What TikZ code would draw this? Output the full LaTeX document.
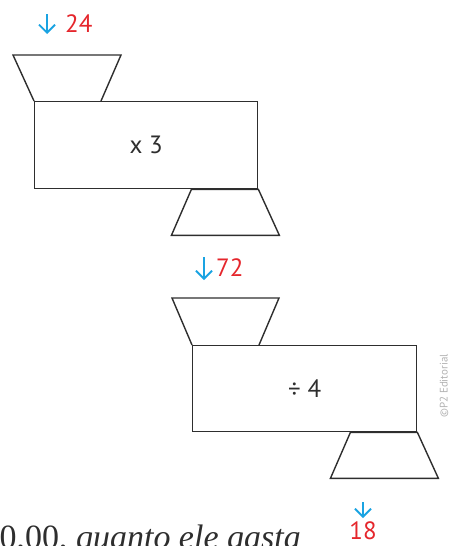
\documentclass[tikz,border=0pt]{standalone}
\usepackage{fontspec}
\setmainfont{PT Sans}
\newfontfamily\serifbody{Liberation Serif}
\usetikzlibrary{arrows.meta}
\definecolor{inkgray}{HTML}{2E2E2E}
\definecolor{arrowblue}{HTML}{1AA3E2}
\definecolor{numred}{HTML}{E5262C}
\tikzset{
  machine/.style={draw=inkgray, line width=1.4pt, minimum width=223pt, minimum height=87pt, inner sep=0pt, text=inkgray, font=\fontsize{25}{30}\selectfont},
  funnel/.style={draw=inkgray, line width=1.4pt, line join=miter},
  downarrow/.style={draw=arrowblue, line width=1.8pt, -{Straight Barb[length=8pt,width=16pt,line width=1.8pt]}},
  numlabel/.style={text=numred, font=\fontsize{25}{30}\selectfont, inner sep=0pt},
}
\begin{document}
\begin{tikzpicture}[x=1pt,y=-1pt]
\useasboundingbox (0,0) rectangle (453,546);
% machine 1
\node[machine, anchor=north west] (m1) at (34,101) {x 3};
\draw[funnel] (m1.north west) -- ++(-21,-46) -- ++(108,0) -- ++(-20,46);
\draw[funnel] ([xshift=-67pt]m1.south east) -- (m1.south east) -- ++(21,46) -- ++(-108,0) -- cycle;
% machine 2
\node[machine, anchor=north west, minimum width=224pt, minimum height=86pt] (m2) at (192,345) {÷ 4};
\draw[funnel] (m2.north west) -- ++(-20,-47) -- ++(107,0) -- ++(-20,47);
\draw[funnel] ([xshift=-67pt]m2.south east) -- (m2.south east) -- ++(21,46) -- ++(-108,0) -- cycle;
% inputs and outputs
\coordinate (a1s) at (47,14); \coordinate (a1e) at (47,34);
\draw[downarrow] (a1s) -- (a1e);
\node[numlabel, anchor=west] (n24) at (65,24) {24};
\coordinate (a2s) at (204,257); \coordinate (a2e) at (204,280);
\draw[downarrow] (a2s) -- (a2e);
\node[numlabel, anchor=west] (n72) at (216,268) {72};
\coordinate (a3s) at (363,502); \coordinate (a3e) at (363,518);
\draw[downarrow] (a3s) -- (a3e);
\node[numlabel, anchor=base] (n18) at (363,539) {18};
% credit
\node[rotate=90, text=gray!60, font=\fontsize{11}{12}\selectfont, inner sep=0pt] (credit) at (444,386) {©P2 Editorial};
% cut-off body text
\begin{scope}
\clip (0,0) rectangle (453,546);
\node[anchor=base east, text=inkgray, font=\serifbody\fontsize{34}{40}\selectfont, inner sep=0pt] (body) at (301,548) {50,00, \textit{quanto ele gasta}};
\end{scope}
\end{tikzpicture}
\end{document}
